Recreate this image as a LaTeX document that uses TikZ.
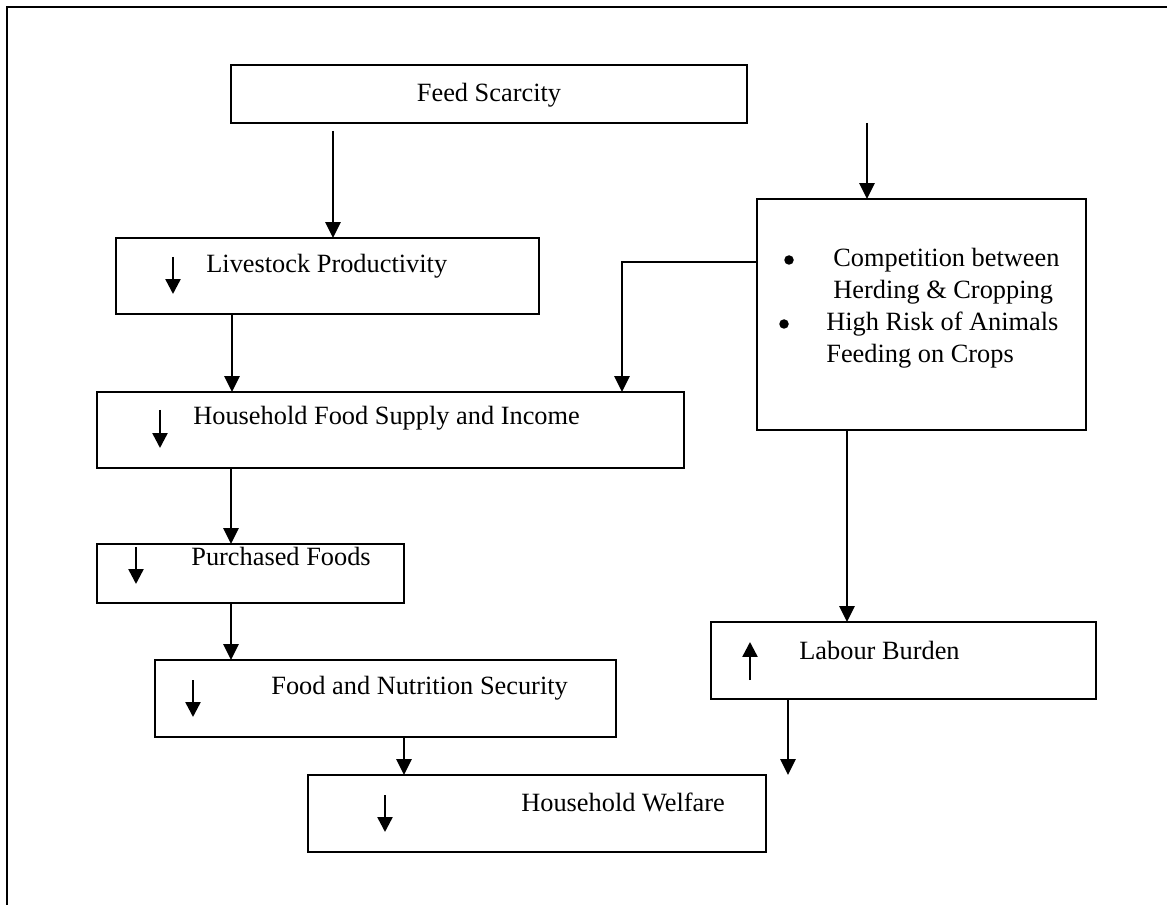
\documentclass[tikz,border=0pt]{standalone}
\usepackage{fontspec}
\setmainfont{Liberation Serif}
\usetikzlibrary{arrows.meta}
\begin{document}
\begin{tikzpicture}[x=0.02cm,y=-0.02cm,
  box/.style={draw,line width=1pt,rectangle,inner sep=0pt,outer sep=0pt},
  txt/.style={anchor=west,inner sep=0pt,font=\fontsize{15}{18}\selectfont},
  bul/.style={circle,fill,inner sep=0pt,minimum size=0.19cm},
  conn/.style={line width=1.4pt,-{Triangle[length=9pt,width=8.5pt]}},
  small/.style={line width=1.4pt,-{Triangle[length=8.5pt,width=8.5pt]}},
  frame/.style={line width=1.1pt}]
\useasboundingbox (0,0) rectangle (1167,905);
% outer frame (only left and top sides visible)
\coordinate (fbl) at (7,910);
\coordinate (ftl) at (7,7);
\coordinate (ftr) at (1172,7);
\draw[frame] (fbl) -- (ftl) -- (ftr);

% boxes
\node[box,minimum width=10.32cm,minimum height=1.16cm] (feed) at (489,94) {};
\node[box,minimum width=6.58cm,minimum height=4.62cm] (comp) at (921.5,314.5) {};
\node[box,minimum width=8.46cm,minimum height=1.52cm] (live) at (327.5,276) {};
\node[box,minimum width=11.74cm,minimum height=1.52cm] (hfood) at (390.5,430) {};
\node[box,minimum width=6.14cm,minimum height=1.18cm] (purch) at (250.5,573.5) {};
\node[box,minimum width=9.22cm,minimum height=1.54cm] (fns) at (385.5,698.5) {};
\node[box,minimum width=9.16cm,minimum height=1.54cm] (welf) at (537,813.5) {};
\node[box,minimum width=7.7cm,minimum height=1.54cm] (labour) at (903.5,660.5) {};

% texts
\node[txt,anchor=center] (tfeed) at (489,95) {Feed Scarcity};
\node[txt] (tlive) at (206,266) {Livestock Productivity};
\node[txt] (thfood) at (193,418) {Household Food Supply and Income};
\node[txt] (tpurch) at (191,556) {Purchased Foods};
\node[txt] (tfns) at (271,688) {Food and Nutrition Security};
\node[txt] (twelf) at (521,802) {Household Welfare};
\node[txt] (tlab) at (799,650) {Labour Burden};
\node[bul] (b1) at (789,260) {};
\node[txt] (c1) at (833,260) {Competition between};
\node[txt] (c2) at (833,292) {Herding \& Cropping};
\node[bul] (b2) at (784,324) {};
\node[txt] (c3) at (826,324) {High Risk of Animals};
\node[txt] (c4) at (826,356) {Feeding on Crops};

% small indicator arrows
\draw[small] (173,257) -- (173,294);
\draw[small] (160,410) -- (160,448);
\draw[small] (136,547) -- (136,584);
\draw[small] (193,680) -- (193,717);
\draw[small] (385,795) -- (385,832);
\draw[small] (750,680) -- (750,642);

% connectors
\coordinate (s1) at (333,131);
\draw[conn] (s1) -- (s1 |- live.north);
\coordinate (s2) at (867,123);
\draw[conn] (s2) -- (s2 |- comp.north);
\coordinate (e1) at (622,262);
\draw[conn] (comp.west |- e1) -- (e1) -- (e1 |- hfood.north);
\coordinate (x3) at (847,0);
\draw[conn] (comp.south -| x3) -- (labour.north -| x3);
\coordinate (x4) at (232,0);
\draw[conn] (live.south -| x4) -- (hfood.north -| x4);
\coordinate (x5) at (231,0);
\draw[conn] (hfood.south -| x5) -- (purch.north -| x5);
\draw[conn] (purch.south -| x5) -- (fns.north -| x5);
\coordinate (x6) at (404,0);
\draw[conn] (fns.south -| x6) -- (welf.north -| x6);
\coordinate (x7) at (788,0);
\draw[conn] (labour.south -| x7) -- (x7 |- welf.north);
\end{tikzpicture}
\end{document}
